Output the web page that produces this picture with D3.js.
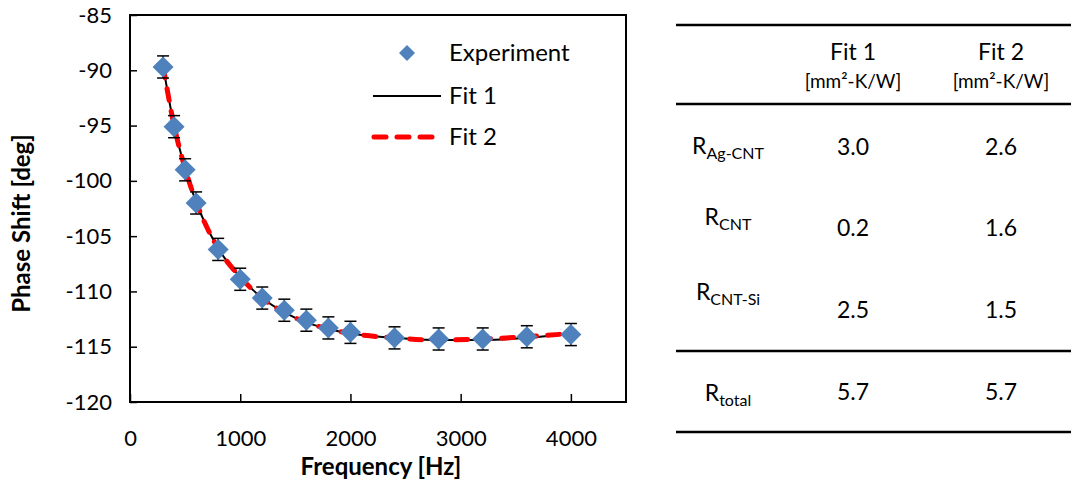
<!DOCTYPE html>
<html>
<head>
<meta charset="utf-8">
<script src="https://cdn.jsdelivr.net/npm/d3@7/dist/d3.min.js"></script>
<style>
  html, body { margin: 0; padding: 0; background: #fff; }
  svg { display: block; }
</style>
</head>
<body>
<div id="chart"></div>
<script>
// ── Data ──
const freq = [300, 400, 500, 600, 800, 1000, 1200, 1400, 1600, 1800, 2000, 2400, 2800, 3200, 3600, 4000];
const phase = [-89.7, -95.1, -99.0, -102.0, -106.2, -108.9, -110.6, -111.7, -112.6, -113.3, -113.7, -114.2, -114.3, -114.3, -114.1, -113.9];
const errBar = [1.0, 1.0, 1.0, 1.0, 1.0, 1.0, 1.0, 1.0, 1.0, 1.0, 1.0, 1.0, 1.0, 1.0, 1.0, 1.0];

const fitFreq = [300, 400, 500, 600, 800, 1000, 1200, 1400, 1600, 1800, 2000, 2400, 2800, 3200, 3600, 4000];
const fit1 = [-89.6, -95.0, -98.9, -101.9, -106.1, -108.7, -110.6, -111.9, -112.8, -113.4, -113.8, -114.2, -114.4, -114.4, -114.2, -113.8];
const fit2 = [-89.6, -95.0, -98.9, -101.9, -106.1, -108.7, -110.6, -111.9, -112.8, -113.4, -113.8, -114.2, -114.4, -114.3, -114.1, -113.8];

const xTicks = [0, 1000, 2000, 3000, 4000];
const yTicks = [-85, -90, -95, -100, -105, -110, -115, -120];

const tableCols = ['Fit 1', 'Fit 2'];
const tableUnit = '[mm²-K/W]';
const rowMain = ['R', 'R', 'R', 'R'];
const rowSub = ['Ag-CNT', 'CNT', 'CNT-Si', 'total'];
const fit1Vals = ['3.0', '0.2', '2.5', '5.7'];
const fit2Vals = ['2.6', '1.6', '1.5', '5.7'];

const FONT = "Lato, 'Open Sans', sans-serif";
const BLUE = '#4f81bd';

const W = 1071, H = 484;
const svg = d3.select('#chart').append('svg').attr('width', W).attr('height', H);

// ── Chart ──
const plot = { left: 130, right: 626, top: 15, bottom: 402 };
const x = d3.scaleLinear().domain([0, 4500]).range([plot.left, plot.right]);
const y = d3.scaleLinear().domain([-120, -85]).range([plot.bottom, plot.top]);
const fmt = d => String(d); // plain hyphen minus, no thousands separator

// frame
svg.append('rect')
    .attr('x', plot.left).attr('y', plot.top)
    .attr('width', plot.right - plot.left).attr('height', plot.bottom - plot.top)
    .attr('fill', 'none').attr('stroke', '#000').attr('stroke-width', 2);

// x axis
const xAxis = svg.append('g')
    .attr('transform', `translate(0,${plot.bottom})`)
    .call(d3.axisBottom(x).tickValues(xTicks).tickFormat(fmt).tickSizeInner(-8).tickSizeOuter(0).tickPadding(28));
xAxis.select('.domain').remove();
xAxis.selectAll('line').attr('stroke', '#000').attr('stroke-width', 1.5);
xAxis.selectAll('text').attr('font-family', FONT).attr('font-size', '22px').attr('fill', '#000');

// y axis
const yAxis = svg.append('g')
    .attr('transform', `translate(${plot.left},0)`)
    .call(d3.axisLeft(y).tickValues(yTicks).tickFormat(fmt).tickSizeInner(-7).tickSizeOuter(0).tickPadding(18));
yAxis.select('.domain').remove();
yAxis.selectAll('line').attr('stroke', '#000').attr('stroke-width', 1.5);
yAxis.selectAll('text').attr('font-family', FONT).attr('font-size', '22px').attr('fill', '#000');

// axis titles
svg.append('text')
    .attr('x', (plot.left + plot.right) / 2 + 3).attr('y', 475)
    .attr('text-anchor', 'middle')
    .attr('font-family', FONT).attr('font-size', '24px').attr('font-weight', 'bold')
    .text('Frequency [Hz]');

svg.append('text')
    .attr('transform', `translate(30,${(plot.top + plot.bottom) / 2 + 15}) rotate(-90)`)
    .attr('text-anchor', 'middle')
    .attr('font-family', FONT).attr('font-size', '24px').attr('font-weight', 'bold')
    .text('Phase Shift [deg]');

// fits
const fitLine = vals => d3.line()
    .x((d, i) => x(fitFreq[i]))
    .y(d => y(d))
    .curve(d3.curveMonotoneX)(vals);

svg.append('path')
    .attr('d', fitLine(fit1))
    .attr('fill', 'none').attr('stroke', '#000').attr('stroke-width', 2);

svg.append('path')
    .attr('d', fitLine(fit2))
    .attr('fill', 'none').attr('stroke', '#ff0000').attr('stroke-width', 5)
    .attr('stroke-linecap', 'round').attr('stroke-dasharray', '12,11');

// error bars
const pts = freq.map((f, i) => ({ f, v: phase[i], e: errBar[i] }));
const eb = svg.append('g').attr('stroke', '#000').attr('stroke-width', 1.5);
pts.forEach(p => {
    const cx = x(p.f);
    eb.append('line').attr('x1', cx).attr('x2', cx).attr('y1', y(p.v + p.e)).attr('y2', y(p.v - p.e));
    eb.append('line').attr('x1', cx - 6).attr('x2', cx + 6).attr('y1', y(p.v + p.e)).attr('y2', y(p.v + p.e));
    eb.append('line').attr('x1', cx - 6).attr('x2', cx + 6).attr('y1', y(p.v - p.e)).attr('y2', y(p.v - p.e));
});

// markers
const diamond = r => `M0,${-r}L${r},0L0,${r}L${-r},0Z`;
svg.append('g')
    .selectAll('path')
    .data(pts)
    .join('path')
    .attr('d', diamond(10.5))
    .attr('transform', d => `translate(${x(d.f)},${y(d.v)})`)
    .attr('fill', BLUE);

// legend
const lg = svg.append('g');
lg.append('path').attr('d', diamond(8)).attr('transform', 'translate(407,53)').attr('fill', BLUE);
lg.append('text').attr('x', 449).attr('y', 61).text('Experiment');
lg.append('line').attr('x1', 373).attr('x2', 441).attr('y1', 96).attr('y2', 96)
    .attr('stroke', '#000').attr('stroke-width', 2);
lg.append('text').attr('x', 449).attr('y', 104).text('Fit 1');
lg.append('line').attr('x1', 374).attr('x2', 437).attr('y1', 137).attr('y2', 137)
    .attr('stroke', '#ff0000').attr('stroke-width', 5)
    .attr('stroke-linecap', 'round').attr('stroke-dasharray', '12,11');
lg.append('text').attr('x', 449).attr('y', 145).text('Fit 2');
lg.selectAll('text').attr('font-family', FONT).attr('font-size', '24px').attr('fill', '#000');

// ── Table ──
const tb = svg.append('g').attr('font-family', FONT).attr('fill', '#000');
const tx0 = 676, tx1 = 1071;
[25, 104, 351, 432].forEach(ly => {
    tb.append('line').attr('x1', tx0).attr('x2', tx1).attr('y1', ly).attr('y2', ly)
        .attr('stroke', '#000').attr('stroke-width', 2.5);
});

const colX = [853, 1001];
const labelX = 728;
tableCols.forEach((c, i) => {
    tb.append('text').attr('x', colX[i]).attr('y', 60).attr('text-anchor', 'middle')
        .attr('font-size', '23px').text(c);
    tb.append('text').attr('x', colX[i]).attr('y', 88).attr('text-anchor', 'middle')
        .attr('font-size', '19px').text(tableUnit);
});

const labelY = [154, 225, 300, 401];
const valY = [155, 236, 318, 400];
rowMain.forEach((m, i) => {
    const t = tb.append('text').attr('x', labelX).attr('y', labelY[i]).attr('text-anchor', 'middle');
    t.append('tspan').attr('font-size', '23px').text(m);
    t.append('tspan').attr('font-size', '16px').attr('dy', 5).text(rowSub[i]);
    tb.append('text').attr('x', colX[0]).attr('y', valY[i]).attr('text-anchor', 'middle')
        .attr('font-size', '23px').text(fit1Vals[i]);
    tb.append('text').attr('x', colX[1]).attr('y', valY[i]).attr('text-anchor', 'middle')
        .attr('font-size', '23px').text(fit2Vals[i]);
});
</script>
</body>
</html>
